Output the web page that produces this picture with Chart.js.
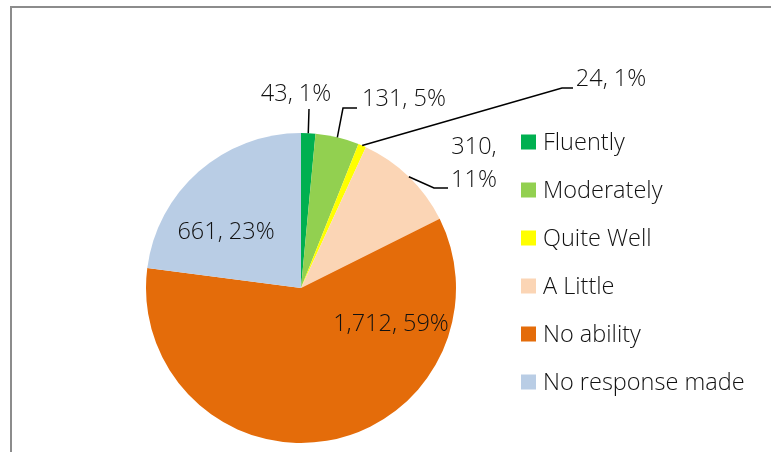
<!DOCTYPE html>
<html>
<head>
<script src="https://cdn.jsdelivr.net/npm/chart.js@4/dist/chart.umd.min.js"></script>
<style>
  body { margin: 0; background: #fff; }
  #wrap { width: 771px; height: 452px; position: relative; }
</style>
</head>
<body>
<div id="wrap"><canvas id="chart" width="771" height="452"></canvas></div>
<script>
// answers to the language question
var categories = ['Fluently', 'Moderately', 'Quite Well', 'A Little', 'No ability', 'No response made'];
var counts = [43, 131, 24, 310, 1712, 661];
var colours = ['#00B050', '#92D050', '#FFFF00', '#FBD5B5', '#E46C0A', '#B9CDE5'];

// label placement, px from pie centre for a 155px radius (Excel "best fit" spots)
var labelAt = [[-5, -194], [103, -189], [310, -209], [173, -124], [90, 36], [-75, -56]];
// leader lines: elbow point and end point, null = label sits inside the slice
var leaders = [
  [[8, -179], [8, -179]],
  [[42, -180], [56, -180]],
  [[261, -200], [272, -200]],
  [[133, -100], [147, -100]],
  null,
  null
];

var FONT = '300 23.5px "Open Sans", Lato, sans-serif';
var TEXT = '#111';

var total = counts.reduce(function(a, b) { return a + b; }, 0);

function labelText(i) {
  var pct = Math.round(counts[i] / total * 100) + '%';
  var num = counts[i].toLocaleString('en-US') + ',';
  // the A Little label wraps onto two lines in the original
  return i == 3 ? [num, pct] : [num + ' ' + pct];
}

var frame = {
  id: 'frame',
  beforeDraw: function(chart) {
    var ctx = chart.ctx;
    ctx.save();
    ctx.strokeStyle = '#8c8c8c';
    ctx.lineWidth = 2;
    ctx.beginPath();
    ctx.moveTo(11, chart.height);
    ctx.lineTo(11, 7);
    ctx.lineTo(chart.width, 7);
    ctx.stroke();
    ctx.restore();
  }
};

var pieLabels = {
  id: 'pieLabels',
  afterDatasetsDraw: function(chart) {
    var ctx = chart.ctx;
    var meta = chart.getDatasetMeta(0);
    ctx.save();
    ctx.font = FONT;
    ctx.fillStyle = TEXT;
    ctx.textAlign = 'center';
    ctx.textBaseline = 'middle';
    meta.data.forEach(function(arc, i) {
      var k = arc.outerRadius / 155;
      var mid = (arc.startAngle + arc.endAngle) / 2;
      var lx = arc.x + labelAt[i][0] * k, ly = arc.y + labelAt[i][1] * k;
      if (leaders[i]) {
        var ex = arc.x + Math.cos(mid) * arc.outerRadius;
        var ey = arc.y + Math.sin(mid) * arc.outerRadius;
        ctx.strokeStyle = '#000';
        ctx.lineWidth = 1.5;
        ctx.beginPath();
        ctx.moveTo(ex, ey);
        ctx.lineTo(arc.x + leaders[i][0][0] * k, arc.y + leaders[i][0][1] * k);
        ctx.lineTo(arc.x + leaders[i][1][0] * k, arc.y + leaders[i][1][1] * k);
        ctx.stroke();
      }
      var lines = labelText(i);
      var lh = 33;
      lines.forEach(function(t, j) {
        ctx.fillText(t, lx, ly + (j - (lines.length - 1) / 2) * lh);
      });
    });
    ctx.restore();
  }
};

var sideLegend = {
  id: 'sideLegend',
  afterDraw: function(chart) {
    var ctx = chart.ctx;
    var x = chart.chartArea.right + 65, y0 = chart.chartArea.top + 9, step = 48, box = 15;
    ctx.save();
    ctx.font = FONT;
    ctx.textAlign = 'left';
    ctx.textBaseline = 'middle';
    categories.forEach(function(c, i) {
      var y = y0 + i * step;
      ctx.fillStyle = colours[i];
      ctx.fillRect(x, y - box / 2, box, box);
      ctx.fillStyle = TEXT;
      ctx.fillText(c, x + box + 7, y + 1);
    });
    ctx.restore();
  }
};

new Chart(document.getElementById('chart'), {
  type: 'pie',
  data: {
    labels: categories,
    datasets: [{
      data: counts,
      backgroundColor: colours,
      borderWidth: 0
    }]
  },
  options: {
    responsive: false,
    animation: false,
    layout: { padding: { left: 146, right: 315, top: 133, bottom: 9 } },
    plugins: {
      legend: { display: false },
      tooltip: { enabled: false }
    }
  },
  plugins: [frame, pieLabels, sideLegend]
});
</script>
</body>
</html>
